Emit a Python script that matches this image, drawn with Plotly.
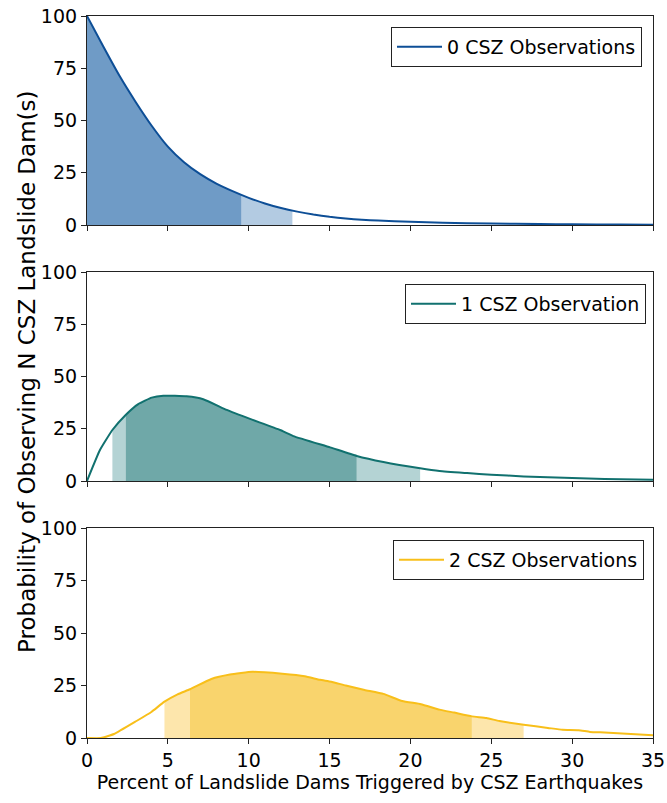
import numpy as np
import plotly.graph_objects as go

# ---- data ----
x0 = [0, 1, 2, 3, 4, 5, 6, 7, 8, 9, 10, 11, 12, 13, 14, 15, 16, 17, 18,
      20, 22, 25, 28, 30, 33, 35]
y0 = [100, 85.5, 71.5, 59, 47.5, 37.5, 30, 24.3, 19.8, 16.2, 13.0, 10.3, 8.1, 6.4, 5.0, 3.9, 3.1, 2.5, 2.1,
      1.6, 1.1, 0.7, 0.45, 0.35, 0.2, 0.15]

x1 = [0, 0.8, 1.57, 2.39, 3.17, 4.0, 4.72, 6.16, 7.19, 8.64, 10.08, 11.94, 12.76, 15.03,
      16.68, 18.33, 20.6, 21.8, 23.5, 25, 27, 30, 32, 35]
y1 = [0, 14.8, 24.4, 31.6, 36.8, 39.9, 40.8, 40.5, 39.1, 34.0, 29.7, 24.4, 21.5, 16.1,
      12.0, 9.1, 6.1, 4.8, 3.8, 3.0, 2.2, 1.4, 1.0, 0.6]

x2 = [0, 0.86, 1.67, 3.06, 3.98, 4.79, 5.6, 6.37, 7.69, 8.84, 10.23, 12.08, 13.47, 14.4,
      15.1, 16.0, 17.17, 18.33, 19.49, 20.65, 21.8, 22.7, 23.8, 24.7, 25.5, 27.0, 28.5,
      29.4, 30.4, 31.1, 32.0, 35]
y2 = [0, 0, 1.9, 8.1, 12.4, 17.3, 20.8, 23.2, 28.1, 30.2, 31.5, 30.6, 29.4, 27.7,
      26.8, 25.0, 22.9, 21.0, 17.6, 16.1, 13.5, 12.1, 10.3, 9.5, 8.1, 6.3, 4.8,
      3.9, 3.7, 2.9, 2.6, 1.3]

# credible intervals: (outer_lo, inner_lo, inner_hi, outer_hi)
bands0 = (0.0, 0.0, 9.55, 12.7)
bands1 = (1.57, 2.39, 16.68, 20.6)
bands2 = (4.79, 6.37, 23.8, 27.0)

names = ["0 CSZ Observations", "1 CSZ Observation", "2 CSZ Observations"]
line_colors = ["#0d4e96", "#11716f", "#f8bf1a"]
dark_fill = ["#6f9bc6", "#6fa8a8", "#f9d46d"]
light_fill = ["#b3cbe2", "#b4d3d4", "#fde6ac"]

xs = [x0, x1, x2]
ys = [y0, y1, y2]
bands = [bands0, bands1, bands2]

fig = go.Figure()

W, H = 667, 803
ml, mr, mt, mb = 87, 14, 16, 65
ph = H - mt - mb
def py(p):
    return (H - mb - p) / ph

domains = [(py(225), py(16)), (py(481), py(272)), (py(738), py(528))]
legend_tops = [py(27), py(284), py(540)]
legend_rights = [(642 - ml) / (W - ml - mr), (646 - ml) / (W - ml - mr), (644 - ml) / (W - ml - mr)]


def segment(xd, yd, a, b):
    xd = np.asarray(xd, float); yd = np.asarray(yd, float)
    inner = xd[(xd > a) & (xd < b)]
    sx = np.concatenate([[a], inner, [b]])
    sy = np.interp(sx, xd, yd)
    return sx, sy

for i in range(3):
    ax = "" if i == 0 else str(i + 1)
    xa, ya = "x" + ax, "y" + ax
    lo_o, lo_i, hi_i, hi_o = bands[i]
    for (a, b, c) in [(lo_o, lo_i, light_fill[i]), (hi_i, hi_o, light_fill[i]), (lo_i, hi_i, dark_fill[i])]:
        if b - a <= 0:
            continue
        sx, sy = segment(xs[i], ys[i], a, b)
        fig.add_trace(go.Scatter(x=sx, y=sy, mode="lines", line=dict(width=0), fill="tozeroy",
                                 fillcolor=c, showlegend=False, hoverinfo="skip",
                                 xaxis=xa, yaxis=ya))
    fig.add_trace(go.Scatter(x=xs[i], y=ys[i], mode="lines", name=names[i],
                             line=dict(color=line_colors[i], width=2, shape="spline", smoothing=0.4),
                             xaxis=xa, yaxis=ya, legend="legend" + ax))

font = "DejaVu Sans"
axis_common = dict(range=[0, 35], showgrid=False, zeroline=False, showline=True, mirror=True,
                   linecolor="#222", linewidth=1.2, ticks="outside", ticklen=5, tickcolor="#222",
                   tickvals=[0, 5, 10, 15, 20, 25, 30, 35], tickfont=dict(family=font, size=19, color="black"))
yaxis_common = dict(range=[0, 100], showgrid=False, zeroline=False, showline=True, mirror=True,
                    linecolor="#222", linewidth=1.2, ticks="outside", ticklen=5, tickcolor="#222",
                    tickvals=[0, 25, 50, 75, 100], tickfont=dict(family=font, size=19, color="black"))

layout = dict(width=W, height=H, margin=dict(l=ml, r=mr, t=mt, b=mb, autoexpand=False),
              plot_bgcolor="white", paper_bgcolor="white", font=dict(family=font, color="black"))
for i in range(3):
    ax = "" if i == 0 else str(i + 1)
    xd = dict(axis_common)
    if i < 2:
        xd["showticklabels"] = False
    else:
        xd["title"] = dict(text="Percent of Landslide Dams Triggered by CSZ Earthquakes",
                           font=dict(family=font, size=19), standoff=2)
    xd["anchor"] = "y" + ax
    if i > 0:
        xd["matches"] = "x"
    yd = dict(yaxis_common)
    yd["domain"] = list(domains[i])
    yd["anchor"] = "x" + ax
    layout["xaxis" + ax] = xd
    layout["yaxis" + ax] = yd
    layout["legend" + ax] = dict(x=legend_rights[i], y=legend_tops[i], xanchor="right", yanchor="top",
                                 xref="paper", yref="paper",
                                 bordercolor="#222", borderwidth=1, bgcolor="white",
                                 font=dict(family=font, size=19), itemwidth=45)

fig.update_layout(**layout)
fig.add_annotation(text="Probability of Observing N CSZ Landslide Dam(s)", textangle=-90,
                   xref="paper", yref="paper", x=-0.106, y=0.507, xanchor="center", yanchor="middle",
                   showarrow=False, font=dict(family=font, size=23))
fig.write_html("out.html")
